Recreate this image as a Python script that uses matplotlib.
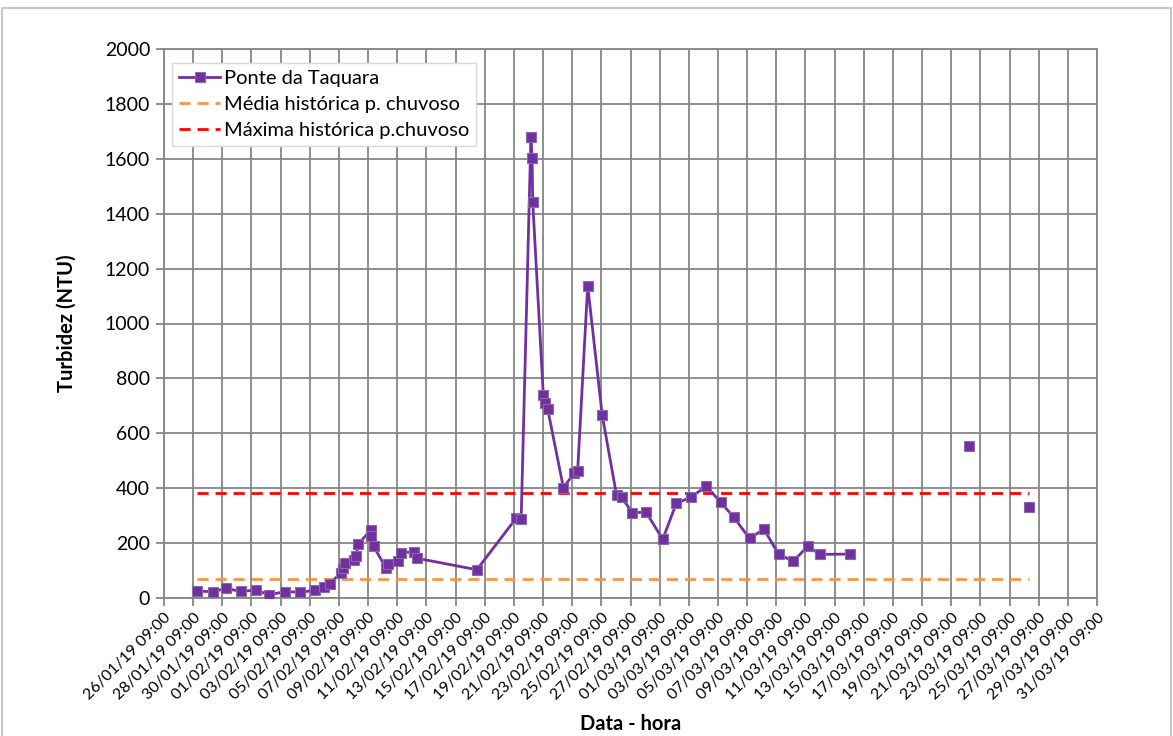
import numpy as np
import pandas as pd
import matplotlib
matplotlib.use("Agg")
import matplotlib.pyplot as plt
import matplotlib.dates as mdates
from matplotlib.patches import Rectangle

# dados (None = sem medição, quebra a linha)
datas = [
    "28/01/19 15:00", "29/01/19 18:00", "30/01/19 15:00", "31/01/19 15:00",
    "01/02/19 16:00", "02/02/19 14:00", "03/02/19 17:00", "04/02/19 17:00",
    "05/02/19 18:00", "06/02/19 09:00", "06/02/19 18:00", "07/02/19 12:00",
    "07/02/19 15:00", "07/02/19 19:00", "08/02/19 10:00", "08/02/19 13:00",
    "08/02/19 17:00", "09/02/19 13:00", "09/02/19 14:30", "09/02/19 18:00",
    "10/02/19 15:00", "10/02/19 18:00", "11/02/19 11:00", "11/02/19 14:30",
    "12/02/19 13:00", "12/02/19 17:00", "16/02/19 20:00", "19/02/19 12:30",
    "19/02/19 21:00", "20/02/19 13:00", "20/02/19 15:00", "20/02/19 16:00",
    "21/02/19 09:30", "21/02/19 13:00", "21/02/19 16:30", "22/02/19 18:30",
    "23/02/19 12:30", "23/02/19 18:00", "24/02/19 10:30", "25/02/19 10:30",
    "26/02/19 10:00", "26/02/19 18:30", "27/02/19 12:00", "28/02/19 10:30",
    "01/03/19 14:00", "02/03/19 12:30", "03/03/19 12:30", "04/03/19 13:30",
    "05/03/19 13:30", "06/03/19 11:00", "07/03/19 13:00", "08/03/19 12:30",
    "09/03/19 13:00", "10/03/19 13:00", "11/03/19 12:30", "12/03/19 09:00",
    "14/03/19 10:00", "18/03/19 09:00", "22/03/19 13:30", "24/03/19 09:00",
    "26/03/19 17:30",
]
turbidez = [
    25, 23, 35, 24,
    29, 12, 23, 21,
    28, 41, 51, 92,
    108, 128, 140, 153,
    197, 246, 225, 188,
    108, 123, 135, 165,
    168, 145, 103, 290,
    288, 1678, 1602, 1444,
    738, 709, 690, 402,
    456, 463, 1138, 665,
    375, 367, 310, 313,
    214, 345, 367, 407,
    349, 294, 217, 251,
    159, 134, 188, 159,
    160, None, 555, None,
    331,
]
media_historica = 70
maxima_historica = 382

inicio_eixo = "26/01/19 09:00"
fim_eixo = "31/03/19 09:00"

fmt = "%d/%m/%y %H:%M"
t = pd.to_datetime(datas, format=fmt)
y = np.array([np.nan if v is None else v for v in turbidez], dtype=float)

roxo = "#7030A0"
cinza = "#868686"

plt.rcParams['font.family'] = ['Lato', 'DejaVu Sans']

fig = plt.figure(figsize=(11.73, 7.36), dpi=100)
ax = fig.add_axes([164/1173, 138/736, 933/1173, 549/736])

ax.plot(t, y, color=roxo, lw=2, marker="s", ms=7.5, mfc=roxo,
        mec="#8a6aa8", mew=0.8, label="Ponte da Taquara", zorder=4)
ax.plot([t[0], t[-1]], [media_historica, media_historica], color="#F79646",
        lw=2, dashes=(4, 2.5), label="Média histórica p. chuvoso", zorder=3)
ax.plot([t[0], t[-1]], [maxima_historica, maxima_historica], color="#FF0000",
        lw=2, dashes=(4, 2.5), label="Máxima histórica p.chuvoso", zorder=3)

x0 = pd.to_datetime(inicio_eixo, format=fmt)
x1 = pd.to_datetime(fim_eixo, format=fmt)
ax.set_xlim(x0, x1)
ax.set_xticks(pd.date_range(x0, x1, freq="2D"))
ax.xaxis.set_major_formatter(mdates.DateFormatter(fmt))
ax.set_ylim(0, 2000)
ax.set_yticks(np.arange(0, 2001, 200))

ax.grid(True, color=cinza, lw=1.3)
ax.set_axisbelow(True)
for s in ax.spines.values():
    s.set_color(cinza)
    s.set_linewidth(1.3)
ax.tick_params(axis="both", direction="out", length=6, color=cinza, width=1.3)
ax.tick_params(axis="y", labelsize=14, pad=4)
ax.tick_params(axis="x", labelsize=11.5, pad=3)
plt.setp(ax.get_xticklabels(), rotation=45, ha="right", rotation_mode="anchor")

ax.set_ylabel("Turbidez (NTU)", fontsize=14.5, fontweight="bold", labelpad=20)
ax.set_xlabel("Data - hora", fontsize=14.5, fontweight="bold", labelpad=8)

leg = ax.legend(loc="upper left", bbox_to_anchor=(0.009, 0.975),
                borderaxespad=0, fontsize=14.5, fancybox=False,
                edgecolor="#D9D9D9", framealpha=1, handlelength=2.0,
                handletextpad=0.2, labelspacing=0.45, borderpad=0.35)

# borda do gráfico (estilo Excel)
fig.patches.append(Rectangle((0.002, -0.01), 0.996, 0.999,
                             transform=fig.transFigure, fill=False,
                             edgecolor="#BFBFBF", lw=1.2))

fig.savefig("out.png", dpi=100)
